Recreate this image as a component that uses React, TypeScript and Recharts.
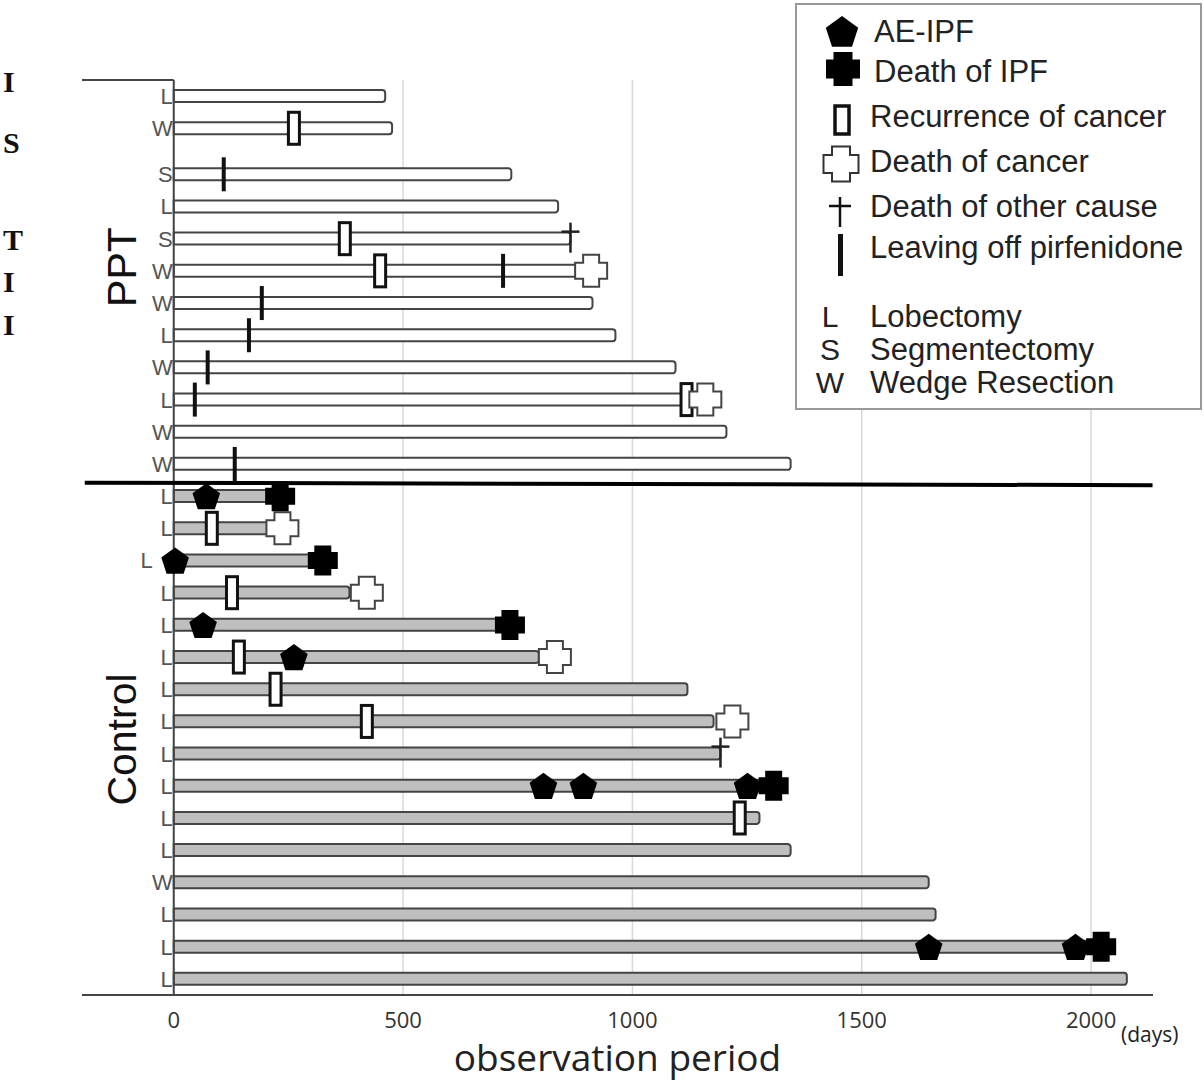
import React from 'react'
import {
  ComposedChart,
  Bar,
  Cell,
  Scatter,
  XAxis,
  YAxis,
  CartesianGrid,
  ReferenceLine,
  ReferenceDot,
  Label,
  Legend,
} from 'recharts'

// surgery type and observation period (days) per patient, top to bottom
const pptSurgery = ['L', 'W', 'S', 'L', 'S', 'W', 'W', 'L', 'W', 'L', 'W', 'W']
const pptDays = [461, 476, 736, 838, 865, 880, 913, 963, 1094, 1112, 1205, 1345]
const controlSurgery = ['L', 'L', 'L', 'L', 'L', 'L', 'L', 'L', 'L', 'L', 'L', 'L', 'W', 'L', 'L', 'L']
const controlDays = [232, 208, 325, 383, 733, 796, 1120, 1177, 1192, 1290, 1277, 1345, 1646, 1661, 2010, 2078]

// events: [patient, day]
const aeIpf: [string, number][] = [
  ['c1', 71], ['c3', 3], ['c5', 64], ['c6', 262], ['c10', 806], ['c10', 893],
  ['c10', 1251], ['c15', 1646], ['c15', 1966],
]
const deathIpf: [string, number][] = [['c1', 232], ['c3', 325], ['c5', 733], ['c10', 1308], ['c15', 2022]]
const recurrence: [string, number][] = [
  ['p2', 262], ['p5', 373], ['p6', 450], ['p10', 1118], ['c2', 83], ['c4', 127],
  ['c6', 142], ['c7', 222], ['c8', 421], ['c11', 1234],
]
const deathCancer: [string, number][] = [['p6', 910], ['p10', 1159], ['c2', 237], ['c4', 421], ['c6', 831], ['c8', 1218]]
const deathOther: [string, number][] = [['p5', 865], ['c9', 1192]]
const leavingOff: [string, number][] = [['p3', 109], ['p6', 718], ['p7', 192], ['p8', 164], ['p9', 74], ['p10', 46], ['p12', 133]]

const xTicks = [0, 500, 1000, 1500, 2000]

const legendItems = [
  'AE-IPF',
  'Death of IPF',
  'Recurrence of cancer',
  'Death of cancer',
  'Death of other cause',
  'Leaving off pirfenidone',
]
const surgeryLegend = [
  ['L', 'Lobectomy'],
  ['S', 'Segmentectomy'],
  ['W', 'Wedge Resection'],
]

// layout
const W = 1204
const H = 1087
const X_MIN = -200
const X_MAX = 2135
const PLOT_LEFT = 82
const PLOT_RIGHT = 1153
const GAP = 0.43
const TOTAL = pptDays.length + controlDays.length + GAP
const SANS = '"Liberation Sans", Arial, sans-serif'
const UI = '"Open Sans", "Noto Sans", sans-serif'

type Row = { id: string; group: string; surgery: string; days: number; pos: number }

const rows: Row[] = [
  ...pptDays.map((d, i) => ({
    id: 'p' + (i + 1),
    group: 'ppt',
    surgery: pptSurgery[i],
    days: d,
    pos: i + 0.5 + (i >= 2 ? GAP : 0),
  })),
  ...controlDays.map((d, i) => ({
    id: 'c' + (i + 1),
    group: 'control',
    surgery: controlSurgery[i],
    days: d,
    pos: pptDays.length + GAP + i + 0.5,
  })),
]
const posOf: Record<string, number> = {}
rows.forEach((r) => (posOf[r.id] = r.pos))
const SEP = pptDays.length + GAP

const allEvents = [...aeIpf, ...deathIpf, ...recurrence, ...deathCancer, ...deathOther, ...leavingOff]
const earlyRows = new Set(allEvents.filter(([, d]) => d < 30).map(([id]) => id))

// surgery letters sit at day 0 of each row, left of the axis
const surgeryMarks = rows.map((r) => ({ days: 0, pos: r.pos, surgery: r.surgery, early: earlyRows.has(r.id) }))

const toPoints = (ev: [string, number][]) => ev.map(([id, day]) => ({ days: day, pos: posOf[id] }))

const pentagonPoints = (cx: number, cy: number, r: number) =>
  [0, 1, 2, 3, 4]
    .map((k) => {
      const a = -Math.PI / 2 + (k * 2 * Math.PI) / 5
      return `${cx + r * Math.cos(a)},${cy + r * Math.sin(a)}`
    })
    .join(' ')

const plusPath = (cx: number, cy: number, s: number, t: number) => {
  const a = s / 2
  const b = t / 2
  return `M${cx - b},${cy - a}H${cx + b}V${cy - b}H${cx + a}V${cy + b}H${cx + b}V${cy + a}H${cx - b}V${cy + b}H${cx - a}V${cy - b}H${cx - b}Z`
}

const AeShape = ({ cx, cy }: any) => <polygon points={pentagonPoints(cx, cy + 1.5, 14.5)} fill="#000" />
const DeathIpfShape = ({ cx, cy }: any) => <path d={plusPath(cx, cy, 30, 17)} fill="#000" />
const RecurrenceShape = ({ cx, cy }: any) => (
  <rect x={cx - 5.5} y={cy - 16} width={11} height={32} fill="#fff" stroke="#111" strokeWidth={3} />
)
const DeathCancerShape = ({ cx, cy }: any) => (
  <path d={plusPath(cx, cy, 32, 16)} fill="#fff" stroke="#444" strokeWidth={2} />
)
const DeathOtherShape = ({ cx, cy }: any) => (
  <g stroke="#222" strokeWidth={2.5}>
    <line x1={cx} y1={cy - 16} x2={cx} y2={cy + 14} />
    <line x1={cx - 9} y1={cy - 7} x2={cx + 9} y2={cy - 7} />
  </g>
)
const LeavingShape = ({ cx, cy }: any) => <rect x={cx - 2} y={cy - 17} width={4} height={34} fill="#111" />

const SurgeryShape = (props: any) => {
  const p = props.payload || {}
  return (
    <text
      x={props.cx - 1 - (p.early ? 20 : 0)}
      y={props.cy}
      dy="0.36em"
      textAnchor="end"
      fontFamily={SANS}
      fontSize={22}
      fill="#555"
    >
      {p.surgery}
    </text>
  )
}

// rotated group name drawn at a reference dot
const GroupName = ({ cx, cy, text, dy }: any) => {
  const x = cx - 7
  const y = cy + dy
  return (
    <text
      x={x}
      y={y}
      transform={`rotate(-90 ${x} ${y})`}
      textAnchor="middle"
      dy="0.36em"
      fontFamily={SANS}
      fontSize={41}
      fill="#111"
    >
      {text}
    </text>
  )
}

const AxisTitle = (props: any) => {
  const vb = props.viewBox
  return (
    <g>
      <text x={vb.x + vb.width / 2} y={vb.y + 76} textAnchor="middle" fontFamily={UI} fontSize={37} fill="#222">
        observation period
      </text>
      <text x={vb.x + vb.width - 32} y={vb.y + 47} fontFamily={UI} fontSize={21} fill="#222">
        (days)
      </text>
    </g>
  )
}

const LegendBox = () => {
  const ty = [28, 68, 113, 158, 203, 244]
  return (
    <svg width={408} height={408} style={{ display: 'block' }}>
      <rect x={1} y={1} width={405} height={405} fill="#fff" stroke="#999" strokeWidth={2} />
      <polygon points={pentagonPoints(47, 30, 17)} fill="#000" />
      <path d={plusPath(48, 66, 34, 19)} fill="#000" />
      <rect x={40} y={103} width={14} height={28} fill="#fff" stroke="#111" strokeWidth={3.5} />
      <path d={plusPath(46, 161, 35, 18)} fill="#fff" stroke="#333" strokeWidth={2} />
      <g stroke="#111" strokeWidth={2.5}>
        <line x1={45} y1={194} x2={45} y2={224} />
        <line x1={34} y1={203} x2={56} y2={203} />
      </g>
      <rect x={43} y={231} width={5} height={42} fill="#111" />
      {legendItems.map((t, i) => (
        <text key={t} x={i < 2 ? 79 : 75} y={ty[i]} dy="0.36em" fontFamily={SANS} fontSize={31} fill="#222">
          {t}
        </text>
      ))}
      {surgeryLegend.map(([k, t], i) => (
        <g key={k}>
          <text x={35} y={313 + i * 33} dy="0.36em" textAnchor="middle" fontFamily={SANS} fontSize={30} fill="#222">
            {k}
          </text>
          <text x={75} y={313 + i * 33} dy="0.36em" fontFamily={SANS} fontSize={31} fill="#222">
            {t}
          </text>
        </g>
      ))}
    </svg>
  )
}

// letters of the neighbouring page column at the left edge
const edgeLetters = [
  ['I', 92],
  ['S', 153],
  ['T', 250],
  ['I', 292],
  ['I', 335],
] as const

export default function App() {
  return (
    <div style={{ position: 'absolute', left: 0, top: 0, width: W, height: H, background: '#fff' }}>
      <svg width={26} height={360} style={{ position: 'absolute', left: 0, top: 0 }}>
        {edgeLetters.map(([c, y], i) => (
          <text key={i} x={3} y={y} fontFamily='"Liberation Serif", serif' fontWeight="bold" fontSize={30} fill="#111">
            {c}
          </text>
        ))}
      </svg>
      <ComposedChart
        width={W}
        height={H}
        data={rows}
        layout="vertical"
        margin={{ top: 80, right: W - PLOT_RIGHT, left: PLOT_LEFT, bottom: 0 }}
      >
        <CartesianGrid horizontal={false} syncWithTicks stroke="#d9d9d9" strokeWidth={1.5} />
        <XAxis
          type="number"
          dataKey="days"
          domain={[X_MIN, X_MAX]}
          ticks={xTicks}
          allowDataOverflow
          height={92}
          tickLine={false}
          tickMargin={11}
          axisLine={{ stroke: '#444', strokeWidth: 2 }}
          tick={{ fontFamily: UI, fontSize: 22, fill: '#333' }}
          label={<Label content={AxisTitle} />}
        />
        <YAxis
          type="number"
          dataKey="pos"
          domain={[0, TOTAL]}
          allowDataOverflow
          ticks={rows.map((r) => r.pos)}
          interval={0}
          hide
        />
        <ReferenceDot
          x={X_MIN / 2}
          y={SEP / 2}
          r={0}
          shape={(p: any) => <GroupName {...p} text="PPT" dy={-13} />}
        />
        <ReferenceDot
          x={X_MIN / 2}
          y={(SEP + TOTAL) / 2}
          r={0}
          shape={(p: any) => <GroupName {...p} text="Control" dy={2} />}
        />
        <ReferenceLine x={0} stroke="#444" strokeWidth={2} />
        <ReferenceLine
          segment={[
            { x: X_MIN, y: 0 },
            { x: 0, y: 0 },
          ]}
          stroke="#444"
          strokeWidth={2}
        />
        <Bar dataKey="days" barSize={12} radius={[0, 3, 3, 0]} stroke="#444" strokeWidth={2} isAnimationActive={false}>
          {rows.map((r) => (
            <Cell key={r.id} fill={r.group === 'ppt' ? '#fff' : '#bfbfbf'} />
          ))}
        </Bar>
        <ReferenceLine
          segment={[
            { x: X_MIN + 6, y: SEP + 0.08 },
            { x: X_MAX - 1, y: SEP + 0.16 },
          ]}
          stroke="#000"
          strokeWidth={4}
        />
        <Scatter data={surgeryMarks} shape={SurgeryShape} isAnimationActive={false} />
        <Scatter data={toPoints(leavingOff)} shape={LeavingShape} isAnimationActive={false} />
        <Scatter data={toPoints(recurrence)} shape={RecurrenceShape} isAnimationActive={false} />
        <Scatter data={toPoints(deathCancer)} shape={DeathCancerShape} isAnimationActive={false} />
        <Scatter data={toPoints(deathOther)} shape={DeathOtherShape} isAnimationActive={false} />
        <Scatter data={toPoints(aeIpf)} shape={AeShape} isAnimationActive={false} />
        <Scatter data={toPoints(deathIpf)} shape={DeathIpfShape} isAnimationActive={false} />
        <Legend
          layout="horizontal"
          verticalAlign="middle"
          align="center"
          content={<LegendBox />}
          wrapperStyle={{ position: 'absolute', left: 795, top: 3, width: 408, height: 408 }}
        />
      </ComposedChart>
    </div>
  )
}
